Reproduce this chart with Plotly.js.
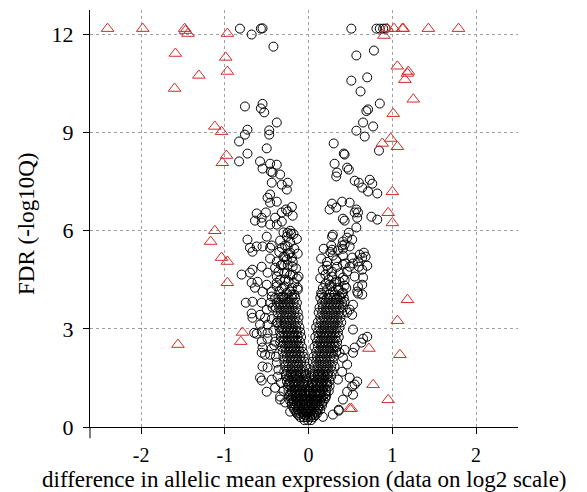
<!DOCTYPE html>
<html>
<head>
<meta charset="utf-8">
<script src="https://cdn.plot.ly/plotly-3.0.1.min.js"></script>
<style>html,body{margin:0;padding:0;background:#fff;}#chart{width:587px;height:492px;}</style>
</head>
<body>
<div id="chart"></div>
<script>
// ---- data (x = difference in allelic mean expression, y = FDR -log10Q) ----
// significant genes (red triangles)
const redX = [-2.40,-1.98,-1.48,-1.47,-1.44,-0.97,-1.59,-0.99,-1.31,-0.97,-1.60,-1.12,-1.04,-0.98,-1.03,-1.12,-1.17,-1.04,-0.97,-0.97,-0.79,-0.81,-1.56,
              0.90,0.94,1.02,1.12,1.13,1.43,1.79,1.06,1.19,1.18,1.15,1.25,1.01,0.98,0.88,1.06,1.00,0.95,1.00,1.18,1.06,0.72,1.09,0.77,0.95,0.49,0.51];
const redY = [12.18,12.18,12.18,12.12,12.03,12.03,11.42,11.30,10.75,10.87,10.35,9.19,9.03,8.30,8.08,6.00,5.67,5.18,5.06,4.41,2.89,2.61,2.52,
              11.97,12.18,12.18,12.18,12.18,12.18,12.18,11.03,10.87,10.81,10.62,10.02,9.58,8.82,8.67,8.57,7.19,6.55,6.24,3.89,3.25,2.40,2.21,1.29,0.83,0.56,0.56];

// other genes (black circles), [x, y] pairs
const blackUpperLeft = [[-0.82,12.18],[-0.68,12.00],[-0.57,12.18],[-0.55,12.19],[-0.42,11.63],
 [-0.76,9.80],[-0.55,9.88],[-0.57,9.74],[-0.53,9.62],[-0.38,9.31],[-0.73,9.09],[-0.76,8.94],[-0.47,9.07],[-0.47,8.94],[-0.83,8.73],[-0.50,8.52],[-0.73,8.36],
 [-0.83,8.12],[-0.58,8.12],[-0.46,8.05],[-0.38,8.02],[-0.55,7.90],[-0.45,7.81],[-0.43,7.78],[-0.34,7.72],[-0.44,7.47],[-0.32,7.41],[-0.25,7.47],[-0.26,7.26],
 [-0.46,7.11],[-0.38,6.89],[-0.46,6.86],[-0.49,7.01],[-0.27,6.65],[-0.25,6.59],[-0.32,6.56],[-0.62,6.53],[-0.51,6.56],[-0.56,6.40],[-0.64,6.31],[-0.40,6.40],
 [-0.32,6.28],[-0.19,6.46],[-0.56,6.25],[-0.46,6.19],[-0.38,6.19],[-0.22,6.00],[-0.25,5.94],[-0.20,6.73],[-0.21,5.91]];
const blackMidLeft = [[-0.73,5.73],[-0.50,5.82],[-0.26,5.82],[-0.70,5.48],[-0.62,5.52],[-0.55,5.52],[-0.44,5.55],[-0.46,5.48],[-0.67,5.36],[-0.32,5.48],
 [-0.25,5.52],[-0.22,5.33],[-0.20,5.18],[-0.28,5.21],[-0.46,5.15],[-0.38,5.06],[-0.26,5.12],[-0.56,4.90],[-0.67,4.81],[-0.40,4.87],[-0.31,4.97],[-0.19,4.90],
 [-0.80,4.66],[-0.70,4.72],[-0.49,4.72],[-0.38,4.60],[-0.26,4.72],[-0.19,4.66],[-0.68,4.41],[-0.61,4.44],[-0.50,4.35],[-0.38,4.41],[-0.28,4.51],[-0.14,4.54],
 [-0.64,4.26],[-0.55,4.14],[-0.44,4.14],[-0.32,4.23],[-0.22,4.14],[-0.13,4.26],[-0.44,3.99],[-0.31,3.99],[-0.20,4.05],
 [-0.30,5.95],[-0.18,5.90],[-0.34,5.70],[-0.22,5.65],[-0.14,5.75],[-0.28,5.55],[-0.17,5.45],[-0.35,5.35],[-0.24,5.30],[-0.13,5.30],[-0.30,5.20],[-0.19,5.05],
 [-0.33,4.95],[-0.25,4.95],[-0.15,4.85],[-0.36,4.75],[-0.29,4.70],[-0.22,4.65],[-0.12,4.60],[-0.34,4.50],[-0.24,4.45],[-0.17,4.40],[-0.38,4.30],[-0.29,4.30],
 [-0.20,4.25],[-0.13,4.20],[-0.35,4.15],[-0.26,4.10],[-0.17,4.05]];
const blackLowLeft = [[-0.75,3.80],[-0.67,3.83],[-0.56,3.80],[-0.46,3.80],[-0.68,3.47],[-0.67,3.34],[-0.58,3.43],[-0.50,3.59],[-0.52,3.34],[-0.58,3.13],
 [-0.49,3.13],[-0.38,3.19],[-0.65,2.88],[-0.62,2.85],[-0.56,2.92],[-0.49,2.88],[-0.56,2.61],[-0.49,2.70],[-0.40,2.61],[-0.55,2.43],[-0.44,2.40],[-0.52,2.21],
 [-0.56,2.27],[-0.46,2.21],[-0.55,1.85],[-0.49,1.82],[-0.38,1.97],[-0.58,1.51],[-0.56,1.42],[-0.44,1.45],[-0.37,1.54],[-0.50,1.08],[-0.40,1.20],[-0.34,0.93],
 [-0.34,0.84],[-0.22,0.47],[-0.43,3.65],[-0.44,3.30],[-0.42,2.95],[-0.41,2.50],[-0.39,2.15],[-0.36,1.75],[-0.33,1.35],[-0.30,1.10],[-0.28,0.75]];
const blackUpperRight = [[0.51,12.18],[0.81,12.18],[0.85,12.18],[0.89,12.18],[0.92,12.18],
 [0.78,11.51],[0.57,11.36],[0.70,10.69],[0.51,10.59],[0.62,10.26],[0.85,9.89],[0.71,9.71],[0.69,9.66],[0.65,9.31],[0.77,9.19],[0.57,9.06],[0.67,8.88],
 [0.30,8.67],[0.42,8.36],[0.43,8.33],[0.84,8.45],[0.31,8.05],[0.46,7.93],[0.48,7.87],[0.34,7.78],[0.33,7.66],[0.55,7.53],[0.60,7.47],[0.73,7.56],[0.76,7.44],
 [0.64,7.32],[0.71,7.20],[0.82,7.14],[0.28,6.83],[0.33,6.71],[0.25,6.65],[0.40,6.89],[0.49,6.86],[0.57,6.65],[0.55,6.56],[0.59,6.56],[0.41,6.37],[0.43,6.31],
 [0.58,6.40],[0.75,6.43],[0.82,6.34],[0.57,6.10],[0.29,5.88],[0.28,5.82],[0.48,5.94],[0.46,5.79],[0.52,5.73],[0.41,5.67]];
const blackMidRight = [[0.27,5.55],[0.28,5.42],[0.40,5.55],[0.41,5.45],[0.43,5.58],[0.49,5.52],[0.29,5.24],[0.41,5.24],[0.52,5.18],[0.61,5.27],[0.66,5.33],
 [0.64,5.18],[0.59,5.06],[0.22,4.93],[0.23,4.81],[0.34,4.90],[0.41,4.97],[0.49,4.90],[0.53,5.00],[0.64,4.81],[0.70,4.93],[0.20,4.66],[0.28,4.60],[0.41,4.57],
 [0.55,4.60],[0.65,4.57],[0.20,4.38],[0.25,4.35],[0.31,4.41],[0.37,4.44],[0.43,4.32],[0.22,4.20],[0.29,4.14],[0.35,4.26],[0.41,4.11],[0.16,4.05],[0.25,4.05],
 [0.37,3.99],[0.58,4.14],[0.64,4.05],[0.59,4.29],[0.59,4.08],[0.64,4.35],[0.68,5.21],[0.60,4.90],
 [0.18,5.45],[0.26,5.35],[0.35,5.40],[0.15,5.15],[0.22,5.05],[0.33,5.10],[0.44,5.00],[0.17,4.80],[0.28,4.75],[0.37,4.70],[0.46,4.75],[0.14,4.55],[0.24,4.50],
 [0.33,4.45],[0.43,4.50],[0.17,4.25],[0.27,4.30],[0.36,4.20],[0.45,4.25],[0.15,4.10],[0.31,4.05],[0.40,4.10]];
const blackLowRight = [[0.53,3.74],[0.49,3.59],[0.52,3.43],[0.46,3.50],[0.43,3.83],[0.53,2.98],[0.70,2.76],[0.65,2.70],[0.63,2.58],[0.55,2.43],[0.53,2.27],
 [0.43,2.36],[0.41,2.12],[0.46,1.91],[0.40,1.69],[0.49,1.51],[0.58,1.39],[0.55,1.30],[0.52,1.24],[0.53,0.99],[0.46,1.08],[0.41,0.84],[0.36,0.53],[0.29,0.38],
 [0.17,0.31],[0.37,2.27],[0.35,1.45],[0.36,0.50]];
const leftCore = [
 [-0.40,3.95],[-0.36,3.95],[-0.32,3.95],[-0.28,3.95],[-0.24,3.95],[-0.20,3.95],[-0.16,3.95],
 [-0.38,3.80],[-0.34,3.80],[-0.30,3.80],[-0.26,3.80],[-0.22,3.80],[-0.18,3.80],[-0.14,3.80],
 [-0.39,3.65],[-0.35,3.65],[-0.31,3.65],[-0.27,3.65],[-0.23,3.65],[-0.19,3.65],[-0.15,3.65],
 [-0.37,3.50],[-0.33,3.50],[-0.29,3.50],[-0.25,3.50],[-0.21,3.50],[-0.17,3.50],[-0.13,3.50],
 [-0.36,3.35],[-0.32,3.35],[-0.28,3.35],[-0.24,3.35],[-0.20,3.35],[-0.16,3.35],[-0.12,3.35],
 [-0.37,3.20],[-0.33,3.20],[-0.29,3.20],[-0.25,3.20],[-0.21,3.20],[-0.17,3.20],[-0.13,3.20],
 [-0.35,3.05],[-0.31,3.05],[-0.27,3.05],[-0.23,3.05],[-0.19,3.05],[-0.15,3.05],[-0.11,3.05],
 [-0.34,2.90],[-0.30,2.90],[-0.26,2.90],[-0.22,2.90],[-0.18,2.90],[-0.14,2.90],[-0.10,2.90],
 [-0.33,2.75],[-0.29,2.75],[-0.25,2.75],[-0.21,2.75],[-0.17,2.75],[-0.13,2.75],[-0.09,2.75],
 [-0.34,2.60],[-0.30,2.60],[-0.26,2.60],[-0.22,2.60],[-0.18,2.60],[-0.14,2.60],[-0.10,2.60],
 [-0.32,2.45],[-0.28,2.45],[-0.24,2.45],[-0.20,2.45],[-0.16,2.45],[-0.12,2.45],[-0.08,2.45],
 [-0.31,2.30],[-0.27,2.30],[-0.23,2.30],[-0.19,2.30],[-0.15,2.30],[-0.11,2.30],[-0.07,2.30],
 [-0.30,2.15],[-0.26,2.15],[-0.22,2.15],[-0.18,2.15],[-0.14,2.15],[-0.10,2.15],[-0.06,2.15],
 [-0.29,2.00],[-0.25,2.00],[-0.21,2.00],[-0.17,2.00],[-0.13,2.00],[-0.09,2.00],[-0.05,2.00],
 [-0.28,1.85],[-0.24,1.85],[-0.20,1.85],[-0.16,1.85],[-0.12,1.85],[-0.08,1.85],[-0.04,1.85],
 [-0.29,1.70],[-0.25,1.70],[-0.21,1.70],[-0.17,1.70],[-0.13,1.70],[-0.09,1.70],[-0.05,1.70],
 [-0.27,1.55],[-0.23,1.55],[-0.19,1.55],[-0.15,1.55],[-0.11,1.55],[-0.07,1.55],[-0.03,1.55],
 [-0.26,1.40],[-0.22,1.40],[-0.18,1.40],[-0.14,1.40],[-0.10,1.40],[-0.06,1.40],[-0.02,1.40],
 [-0.25,1.25],[-0.21,1.25],[-0.17,1.25],[-0.13,1.25],[-0.09,1.25],[-0.05,1.25],[-0.01,1.25],
 [-0.24,1.10],[-0.20,1.10],[-0.16,1.10],[-0.12,1.10],[-0.08,1.10],[-0.04,1.10],[0.00,1.10]];
const rightCore = [
 [0.14,3.95],[0.18,3.95],[0.22,3.95],[0.26,3.95],[0.30,3.95],[0.34,3.95],[0.38,3.95],[0.42,3.95],
 [0.16,3.80],[0.20,3.80],[0.24,3.80],[0.28,3.80],[0.32,3.80],[0.36,3.80],[0.40,3.80],
 [0.13,3.65],[0.17,3.65],[0.21,3.65],[0.25,3.65],[0.29,3.65],[0.33,3.65],[0.37,3.65],[0.41,3.65],
 [0.12,3.50],[0.16,3.50],[0.20,3.50],[0.24,3.50],[0.28,3.50],[0.32,3.50],[0.36,3.50],[0.40,3.50],
 [0.14,3.35],[0.18,3.35],[0.22,3.35],[0.26,3.35],[0.30,3.35],[0.34,3.35],[0.38,3.35],
 [0.11,3.20],[0.15,3.20],[0.19,3.20],[0.23,3.20],[0.27,3.20],[0.31,3.20],[0.35,3.20],[0.39,3.20],
 [0.09,3.05],[0.13,3.05],[0.17,3.05],[0.21,3.05],[0.25,3.05],[0.29,3.05],[0.33,3.05],[0.37,3.05],
 [0.11,2.90],[0.15,2.90],[0.19,2.90],[0.23,2.90],[0.27,2.90],[0.31,2.90],[0.35,2.90],
 [0.08,2.75],[0.12,2.75],[0.16,2.75],[0.20,2.75],[0.24,2.75],[0.28,2.75],[0.32,2.75],[0.36,2.75],
 [0.10,2.60],[0.14,2.60],[0.18,2.60],[0.22,2.60],[0.26,2.60],[0.30,2.60],[0.34,2.60],
 [0.07,2.45],[0.11,2.45],[0.15,2.45],[0.19,2.45],[0.23,2.45],[0.27,2.45],[0.31,2.45],[0.34,2.45],
 [0.09,2.30],[0.13,2.30],[0.17,2.30],[0.21,2.30],[0.25,2.30],[0.29,2.30],[0.33,2.30],
 [0.06,2.15],[0.10,2.15],[0.14,2.15],[0.18,2.15],[0.22,2.15],[0.26,2.15],[0.30,2.15],
 [0.05,2.00],[0.09,2.00],[0.13,2.00],[0.17,2.00],[0.21,2.00],[0.25,2.00],[0.29,2.00],
 [0.07,1.85],[0.11,1.85],[0.15,1.85],[0.19,1.85],[0.23,1.85],[0.27,1.85],[0.31,1.85],
 [0.04,1.70],[0.08,1.70],[0.12,1.70],[0.16,1.70],[0.20,1.70],[0.24,1.70],[0.28,1.70],
 [0.03,1.55],[0.07,1.55],[0.11,1.55],[0.15,1.55],[0.19,1.55],[0.23,1.55],[0.27,1.55],
 [0.05,1.40],[0.09,1.40],[0.13,1.40],[0.17,1.40],[0.21,1.40],[0.25,1.40],
 [0.02,1.25],[0.06,1.25],[0.10,1.25],[0.14,1.25],[0.18,1.25],[0.22,1.25],[0.25,1.25],
 [0.01,1.10],[0.05,1.10],[0.09,1.10],[0.13,1.10],[0.17,1.10],[0.21,1.10],[0.24,1.10]];
const baseCore = [
 [-0.23,0.95],[-0.19,0.95],[-0.15,0.95],[-0.11,0.95],[-0.07,0.95],[-0.03,0.95],[0.01,0.95],[0.05,0.95],[0.09,0.95],[0.13,0.95],[0.17,0.95],[0.21,0.95],
 [-0.22,0.80],[-0.18,0.80],[-0.14,0.80],[-0.10,0.80],[-0.06,0.80],[-0.02,0.80],[0.02,0.80],[0.06,0.80],[0.10,0.80],[0.14,0.80],[0.18,0.80],
 [-0.20,0.66],[-0.16,0.66],[-0.12,0.66],[-0.08,0.66],[-0.04,0.66],[0.00,0.66],[0.04,0.66],[0.08,0.66],[0.12,0.66],[0.16,0.66],
 [-0.17,0.53],[-0.13,0.53],[-0.09,0.53],[-0.05,0.53],[-0.01,0.53],[0.03,0.53],[0.07,0.53],[0.11,0.53],[0.14,0.53],
 [-0.14,0.41],[-0.10,0.41],[-0.06,0.41],[-0.02,0.41],[0.02,0.41],[0.06,0.41],[0.10,0.41],
 [-0.10,0.30],[-0.06,0.30],[-0.02,0.30],[0.02,0.30],[0.06,0.30],
 [-0.05,0.21],[-0.01,0.21],[0.03,0.21]];
const coreFill = [
 [-0.27,1.62],[-0.21,1.62],[-0.15,1.62],[-0.09,1.62],[-0.03,1.62],[0.05,1.62],[0.11,1.62],[0.17,1.62],[0.23,1.62],
 [-0.24,1.32],[-0.18,1.32],[-0.12,1.32],[-0.06,1.32],[0.04,1.32],[0.10,1.32],[0.16,1.32],[0.22,1.32],
 [-0.22,1.02],[-0.16,1.02],[-0.10,1.02],[-0.04,1.02],[0.02,1.02],[0.08,1.02],[0.14,1.02],[0.20,1.02],
 [-0.21,0.88],[-0.15,0.88],[-0.09,0.88],[-0.03,0.88],[0.03,0.88],[0.09,0.88],[0.15,0.88],[0.20,0.88],
 [-0.20,0.73],[-0.14,0.73],[-0.08,0.73],[-0.02,0.73],[0.04,0.73],[0.10,0.73],[0.16,0.73],
 [-0.18,0.59],[-0.12,0.59],[-0.06,0.59],[0.00,0.59],[0.06,0.59],[0.12,0.59],
 [-0.15,0.47],[-0.08,0.47],[-0.03,0.47],[0.03,0.47],[0.09,0.47],
 [-0.12,0.36],[-0.04,0.36],[0.04,0.36],[0.08,0.36]];

const xTickVals = [-2,-1,0,1,2];
const xTickText = ['-2','-1','0','1','2'];
const yTickVals = [0,3,6,9,12];
const yTickText = ['0','3','6','9','12'];
const xTitle = 'difference in allelic mean expression (data on log2 scale)';
const yTitle = 'FDR (-log10Q)';

// ---- build traces ----
const blackAll = [].concat(blackUpperLeft, blackMidLeft, blackLowLeft, blackUpperRight, blackMidRight, blackLowRight, leftCore, rightCore, baseCore, coreFill);
const serif = 'Liberation Serif';

const traces = [
  {type:'scatter', mode:'markers', x: blackAll.map(p=>p[0]), y: blackAll.map(p=>p[1]), cliponaxis:false,
   marker:{symbol:'circle-open', size:9, color:'black', line:{width:1, color:'black'}}, hoverinfo:'skip'},
  {type:'scatter', mode:'markers', x: redX, y: redY, cliponaxis:false,
   marker:{symbol:'triangle-up-open', size:11, color:'#d62a2a', line:{width:1, color:'#d62a2a'}}, hoverinfo:'skip'}
];

const layout = {
  width:587, height:492,
  margin:{l:90, r:69, t:10, b:65, pad:0},
  paper_bgcolor:'white', plot_bgcolor:'white',
  showlegend:false,
  font:{family:serif, color:'black'},
  xaxis:{range:[-2.61,2.50], tickvals:xTickVals, ticktext:xTickText,
    showgrid:true, gridcolor:'#a0a0a0', griddash:'dot', gridwidth:1, zeroline:false,
    showline:true, linecolor:'black', linewidth:1, ticks:'outside', ticklen:6, tickcolor:'black', tickwidth:1,
    tickfont:{family:serif, size:20, color:'black'}, ticklabelstandoff:4},
  yaxis:{range:[0,12.75], tickvals:yTickVals, ticktext:yTickText,
    showgrid:true, gridcolor:'#a0a0a0', griddash:'dot', gridwidth:1, zeroline:false,
    showline:true, linecolor:'black', linewidth:1, ticks:'outside', ticklen:6, tickcolor:'black', tickwidth:1,
    tickfont:{family:serif, size:22, color:'black'}, ticklabelstandoff:5},
  annotations:[
    {text:xTitle, xref:'paper', yref:'paper', x:0.5, y:-0.125, xanchor:'center', yanchor:'middle', showarrow:false,
     font:{family:serif, size:23, color:'black'}},
    {text:yTitle, xref:'paper', yref:'paper', x:-0.147, y:0.487, xanchor:'center', yanchor:'middle', textangle:-90, showarrow:false,
     font:{family:serif, size:23, color:'black'}}
  ],
  shapes:[{type:'line', xref:'paper', yref:'paper', x0:0, x1:0, y0:0, y1:-0.027, line:{color:'black', width:1}}]
};

Plotly.newPlot('chart', traces, layout, {staticPlot:true, displayModeBar:false});
</script>
</body>
</html>
